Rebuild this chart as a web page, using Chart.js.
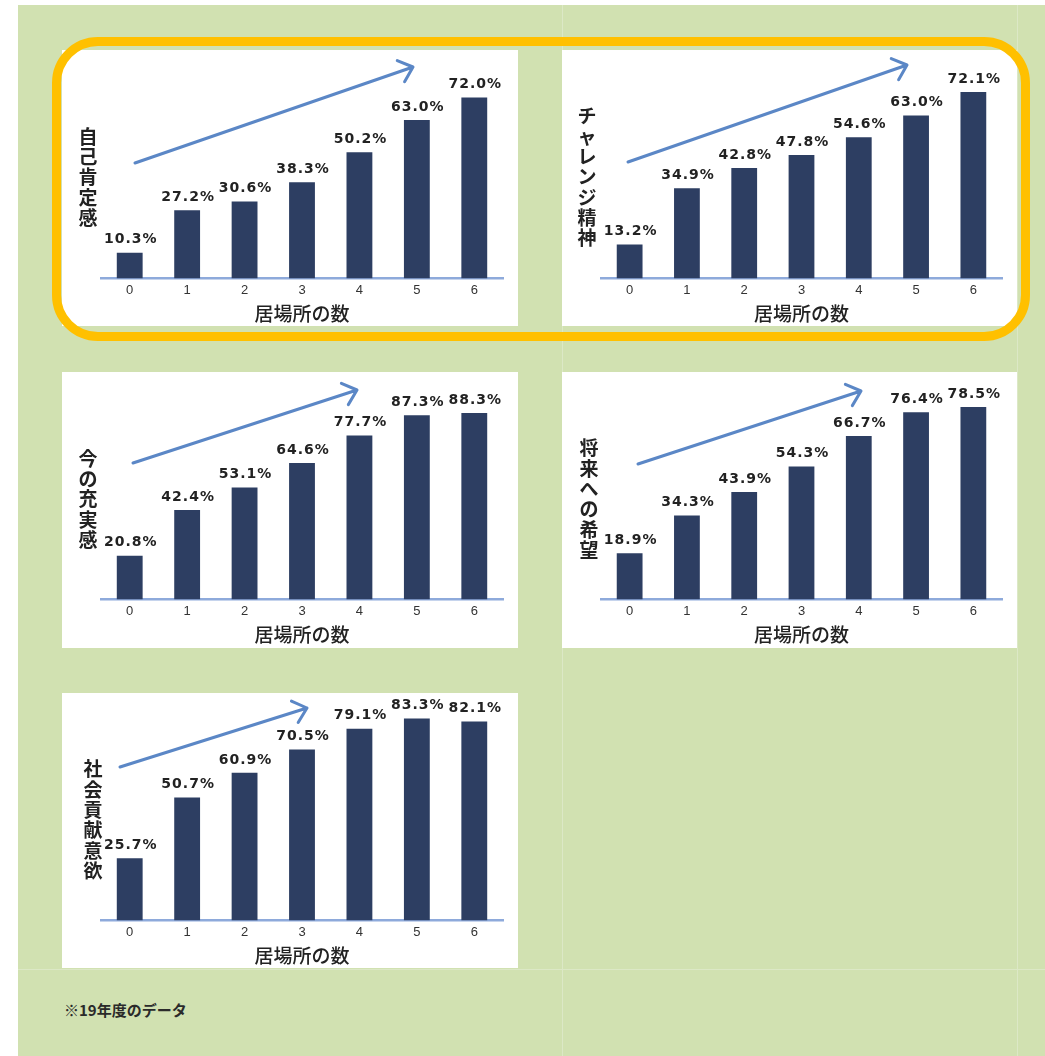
<!DOCTYPE html>
<html>
<head>
<meta charset="utf-8">
<script src="https://cdn.jsdelivr.net/npm/chart.js@4"></script>
<style>
  body { margin: 0; background: #fff; }
  #page { position: relative; width: 1045px; height: 1056px; overflow: hidden; }
  #green { position: absolute; left: 18px; top: 5px; right: 0; bottom: 0; background: #d1e1b1; }
  .vline { position: absolute; top: 5px; bottom: 0; width: 1px; background: #dce8c6; }
  .hline { position: absolute; left: 18px; right: 0; height: 1px; background: #dce8c6; }
  .panel { position: absolute; background: #fff; }
  .panel canvas { display: block; }
  #ring { position: absolute; left: 52px; top: 37px; width: 960px; height: 286px;
          border: 9px solid #ffc000; border-radius: 46px; pointer-events: none; }
  #note { position: absolute; left: 64px; top: 999px; font: bold 15px "Noto Sans CJK JP";
          color: #2a2a2a; }
</style>
</head>
<body>
<div id="page">
  <div id="green"></div>
  <div class="vline" style="left:562px"></div>
  <div class="vline" style="left:1017px"></div>
  <div class="hline" style="top:969px"></div>

  <div class="panel" style="left:62px;top:50px"><canvas id="c1" width="456" height="276"></canvas></div>
  <div class="panel" style="left:562px;top:50px"><canvas id="c2" width="455" height="276"></canvas></div>
  <div class="panel" style="left:62px;top:372px"><canvas id="c3" width="456" height="276"></canvas></div>
  <div class="panel" style="left:562px;top:372px"><canvas id="c4" width="455" height="276"></canvas></div>
  <div class="panel" style="left:62px;top:693px"><canvas id="c5" width="456" height="275"></canvas></div>

  <div id="ring"></div>
  <div id="note">※19年度のデータ</div>
</div>

<script>
// 居場所の数 (number of places to belong)
const categories = ['0', '1', '2', '3', '4', '5', '6'];
const xTitle = '居場所の数';

const selfEsteem   = [10.3, 27.2, 30.6, 38.3, 50.2, 63.0, 72.0];
const challenge    = [13.2, 34.9, 42.8, 47.8, 54.6, 63.0, 72.1];
const fulfillment  = [20.8, 42.4, 53.1, 64.6, 77.7, 87.3, 88.3];
const futureHope   = [18.9, 34.3, 43.9, 54.3, 66.7, 76.4, 78.5];
const contribution = [25.7, 50.7, 60.9, 70.5, 79.1, 83.3, 82.1];

const barColor = '#2d3e62';
const axisColor = '#8eaadb';
const arrowColor = '#5b87c6';

// value labels over each bar
const valueLabels = {
  id: 'valueLabels',
  afterDatasetsDraw(chart) {
    const ctx = chart.ctx;
    const meta = chart.getDatasetMeta(0);
    const data = chart.data.datasets[0].data;
    ctx.save();
    ctx.font = 'bold 14px "DejaVu Sans"';
    ctx.letterSpacing = '1px';
    ctx.fillStyle = '#222';
    ctx.textAlign = 'center';
    ctx.textBaseline = 'bottom';
    meta.data.forEach((bar, i) => {
      ctx.fillText(data[i].toFixed(1) + '%', bar.x + 1, bar.y - 6);
    });
    ctx.restore();
  }
};

// stacked vertical title on the left + trend arrow
const decorations = {
  id: 'decorations',
  afterDraw(chart, args, opts) {
    const ctx = chart.ctx;
    ctx.save();
    // vertical title
    const chars = Array.from(opts.title);
    const step = 20.3;
    let y = opts.titleY - (chars.length * step) / 2 + step / 2;
    ctx.font = 'bold 19px "Noto Sans CJK JP"';
    ctx.fillStyle = '#222';
    ctx.textAlign = 'center';
    ctx.textBaseline = 'middle';
    chars.forEach(ch => {
      ctx.fillText(ch, opts.titleX, y);
      y += step;
    });
    // arrow
    const [x1, y1, x2, y2] = opts.arrow;
    ctx.strokeStyle = arrowColor;
    ctx.lineWidth = 3;
    ctx.lineCap = 'round';
    ctx.lineJoin = 'round';
    ctx.beginPath();
    ctx.moveTo(x1, y1);
    ctx.lineTo(x2, y2);
    const ang = Math.atan2(y2 - y1, x2 - x1);
    const len = 17;
    ctx.moveTo(x2 + len * Math.cos(ang + Math.PI - 0.72), y2 + len * Math.sin(ang + Math.PI - 0.72));
    ctx.lineTo(x2, y2);
    ctx.lineTo(x2 + len * Math.cos(ang + Math.PI + 0.72), y2 + len * Math.sin(ang + Math.PI + 0.72));
    ctx.stroke();
    ctx.restore();
  }
};

function makeChart(id, title, values, yMax, arrow, titleX, padBottom) {
  return new Chart(document.getElementById(id), {
    type: 'bar',
    data: {
      labels: categories,
      datasets: [{
        data: values,
        backgroundColor: barColor,
        borderWidth: 0,
        categoryPercentage: 1,
        barPercentage: 0.45
      }]
    },
    options: {
      responsive: false,
      animation: false,
      layout: { padding: { left: 39, right: 15, top: 10, bottom: padBottom } },
      plugins: {
        legend: { display: false },
        tooltip: { enabled: false },
        decorations: { title: title, titleX: titleX, titleY: 127, arrow: arrow }
      },
      scales: {
        x: {
          grid: { display: false, drawTicks: false },
          border: { display: true, color: axisColor, width: 2.5 },
          ticks: { padding: 4, color: '#333', font: { family: 'Liberation Sans', size: 13 } },
          title: {
            display: true, text: xTitle, color: '#222',
            padding: { top: 0, bottom: 0 },
            font: { family: 'Noto Sans CJK JP', size: 19, weight: '500' }
          }
        },
        y: { display: false, min: 0, max: yMax }
      }
    },
    plugins: [valueLabels, decorations]
  });
}

makeChart('c1', '自己肯定感', selfEsteem, 86.9, [73, 113, 351, 17], 26, 1);
makeChart('c2', 'チャレンジ精神', challenge, 84.5, [66, 112, 345, 15], 25, 1);
makeChart('c3', '今の充実感', fulfillment, 103, [71, 91, 295, 18], 26, 2);
makeChart('c4', '将来への希望', futureHope, 88.7, [76, 92, 299, 19], 27, 2);
makeChart('c5', '社会貢献意欲', contribution, 89.7, [58, 74, 245, 15], 31, 1);
</script>
</body>
</html>
